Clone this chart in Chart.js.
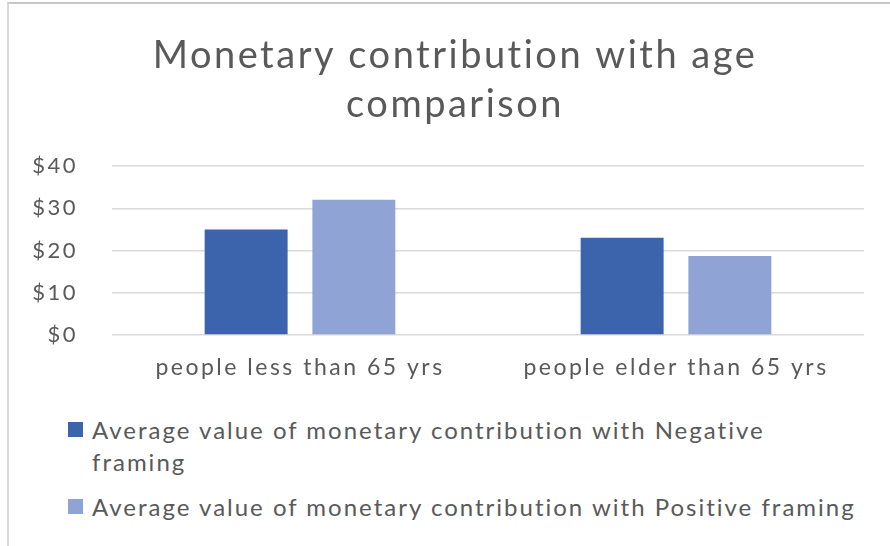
<!DOCTYPE html>
<html>
<head>
<meta charset="utf-8">
<script src="https://cdn.jsdelivr.net/npm/chart.js@4.4.0/dist/chart.umd.min.js"></script>
<style>
  html, body { margin: 0; padding: 0; background: #fff; overflow: hidden; }
  #wrap { position: relative; width: 890px; height: 546px; overflow: hidden; }
  #frame { position: absolute; left: 7px; top: 2px; width: 900px; height: 600px;
           border-top: 2px solid #c8c8c8; border-left: 2px solid #d9d9d9; }
  #grafico { position: absolute; left: 0; top: 0; }
  #legenda { position: absolute; left: 68px; top: 414px; font-family: Lato, sans-serif;
             font-size: 24px; letter-spacing: 2px; color: #595959; }
  .item { display: flex; align-items: flex-start; margin-bottom: 13px; }
  .caixa { width: 15px; height: 15px; flex: none; margin-top: 8px; margin-right: 9px; }
  .texto { line-height: 32px; }
</style>
</head>
<body>
<div id="wrap">
  <div id="frame"></div>
  <canvas id="grafico" width="890" height="400"></canvas>
  <div id="legenda"></div>
</div>
<script>
// Dados do gráfico
const categorias = ['people less than 65 yrs', 'people elder than 65 yrs'];
const negativo = [25, 23];
const positivo = [32, 18.7];
const nomesSeries = [
  'Average value of monetary contribution with Negative framing',
  'Average value of monetary contribution with Positive framing'
];
const coresSeries = ['#3c64ac', '#8fa3d4'];
const ticksY = [0, 10, 20, 30, 40];

const corTexto = '#595959';
const fonte = 'Lato, sans-serif';

// Espaçamento entre letras no canvas (texto do original é bem "aberto")
const espacamento = {
  id: 'espacamento',
  beforeDraw(chart) { chart.ctx.letterSpacing = '2.5px'; }
};

const grafico = new Chart(document.getElementById('grafico'), {
  type: 'bar',
  data: {
    labels: categorias,
    datasets: [negativo, positivo].map((valores, i) => ({
      label: nomesSeries[i],
      data: valores,
      backgroundColor: coresSeries[i],
      barPercentage: 0.77,
      categoryPercentage: 0.573
    }))
  },
  options: {
    responsive: false,
    animation: false,
    layout: { padding: { left: 30, right: 10, top: 10, bottom: 10 } },
    scales: {
      x: {
        afterFit: s => { s.height = 55; },
        grid: { display: false },
        border: { display: false },
        ticks: { color: corTexto, font: { family: fonte, size: 23 }, padding: 11 }
      },
      y: {
        min: ticksY[0],
        max: ticksY[ticksY.length - 1],
        afterFit: s => { s.width = 82; },
        afterBuildTicks: s => { s.ticks = ticksY.map(v => ({ value: v })); },
        grid: { color: '#d9d9d9', lineWidth: 1.5, drawTicks: false },
        border: { display: false },
        ticks: {
          color: corTexto,
          font: { family: fonte, size: 22 },
          padding: 34,
          callback: v => '$' + v
        }
      },
      // eixo vazio à direita, só para reservar espaço
      y2: {
        position: 'right',
        afterFit: s => { s.width = 16; },
        grid: { display: false },
        border: { display: false },
        ticks: { display: false }
      }
    },
    plugins: {
      legend: { display: false },
      tooltip: { enabled: false },
      title: {
        display: true,
        text: ['Monetary contribution with age', 'comparison'],
        color: corTexto,
        font: { family: fonte, size: 38, weight: 'normal', lineHeight: 1.29 },
        padding: { top: 21, bottom: 37 }
      }
    }
  },
  plugins: [espacamento]
});

// Legenda em HTML (quebra de linha como no original)
const legenda = document.getElementById('legenda');
const medida = document.createElement('span');
medida.style.whiteSpace = 'nowrap';
medida.textContent = nomesSeries[1];
legenda.appendChild(medida);
const larguraMax = Math.ceil(medida.getBoundingClientRect().width) + 1;
legenda.removeChild(medida);

grafico.data.datasets.forEach(ds => {
  const div = document.createElement('div');
  div.className = 'item';
  div.innerHTML = `<span class="caixa" style="background:${ds.backgroundColor}"></span>
    <span class="texto" style="max-width:${larguraMax}px">${ds.label}</span>`;
  legenda.appendChild(div);
});
</script>
</body>
</html>
